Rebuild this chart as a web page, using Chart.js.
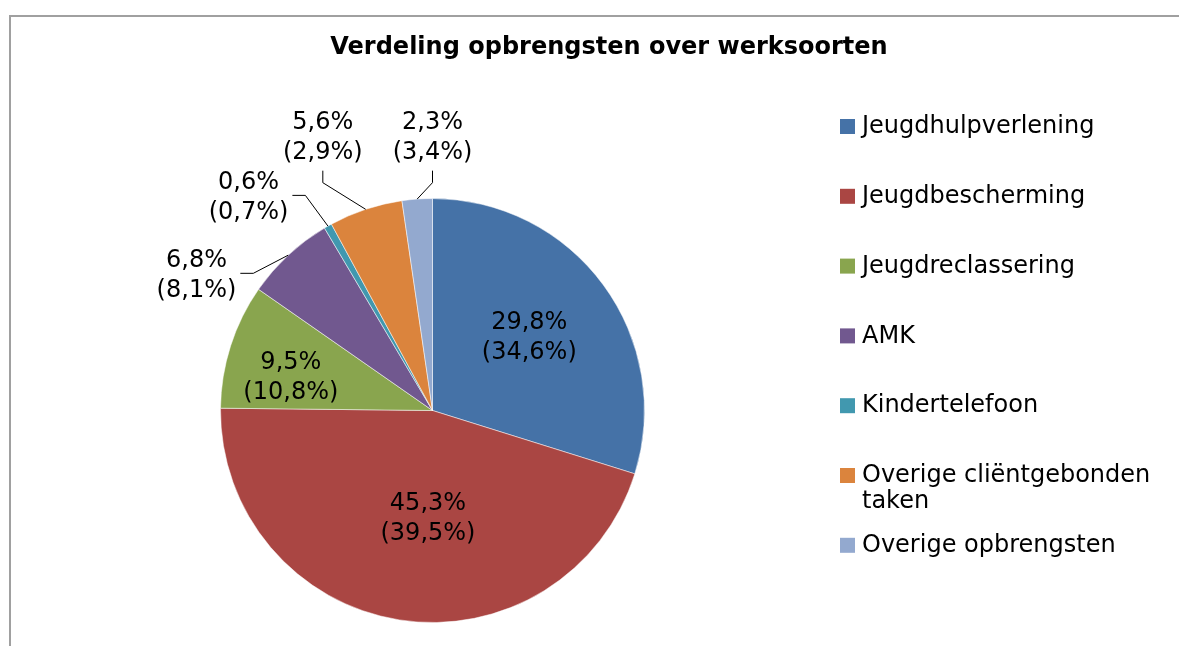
<!DOCTYPE html>
<html>
<head>
<meta charset="utf-8">
<script src="https://cdn.jsdelivr.net/npm/chart.js@4/dist/chart.umd.min.js"></script>
<style>
  html, body { margin: 0; padding: 0; background: #fff; }
  #wrap { position: relative; width: 1179px; height: 646px; }
</style>
</head>
<body>
<div id="wrap"><canvas id="pie"></canvas></div>
<script>
const categories = ['Jeugdhulpverlening', 'Jeugdbescherming', 'Jeugdreclassering', 'AMK',
    'Kindertelefoon', 'Overige cliëntgebonden taken', 'Overige opbrengsten'];
const shares = [29.8, 45.3, 9.5, 6.8, 0.6, 5.6, 2.3];
const sharesPrev = [34.6, 39.5, 10.8, 8.1, 0.7, 2.9, 3.4];
const colors = ['#4572A7', '#AA4643', '#89A54E', '#71588F', '#4198AF', '#DB843D', '#93A9CF'];

const FONT = '"DejaVu Sans", Verdana, sans-serif';
const pct = v => v.toFixed(1).replace('.', ',') + '%';

// where each label sits: angle (deg) and distance as a fraction of the radius; leader style
const labelPlace = [
    { a: -36.8, f: 0.570 }, { a: 92.4, f: 0.511 }, { a: 193.1, f: 0.686 },
    { a: 209.8, f: 1.283, lead: 'h' }, { a: 229.2, f: 1.328, lead: 'h' },
    { a: 248.1, f: 1.387, lead: 'v' }, { a: 270, f: 1.287, lead: 'v' }
];

const decor = {
    id: 'decor',
    beforeDraw(chart) {
        const ctx = chart.ctx;
        ctx.save();
        ctx.strokeStyle = '#a0a0a0';
        ctx.lineWidth = 2;
        ctx.beginPath();
        ctx.moveTo(10, 646); ctx.lineTo(10, 16); ctx.lineTo(1179, 16);
        ctx.stroke();
        ctx.fillStyle = '#000';
        ctx.font = 'bold 24px ' + FONT;
        ctx.textAlign = 'center';
        ctx.textBaseline = 'middle';
        ctx.fillText('Verdeling opbrengsten over werksoorten', 609, 48);
        ctx.restore();
    },
    afterDraw(chart) {
        const ctx = chart.ctx;
        const meta = chart.getDatasetMeta(0);
        ctx.save();
        ctx.font = '24px ' + FONT;
        ctx.fillStyle = '#000';
        ctx.strokeStyle = '#000';
        ctx.lineWidth = 1;
        ctx.textAlign = 'center';
        ctx.textBaseline = 'middle';
        meta.data.forEach((arc, i) => {
            const p = arc.getProps(['x', 'y', 'startAngle', 'endAngle', 'outerRadius'], true);
            const place = labelPlace[i];
            const ang = place.a * Math.PI / 180;
            const cx = p.x + Math.cos(ang) * p.outerRadius * place.f;
            const cy = p.y + Math.sin(ang) * p.outerRadius * place.f;
            const l1 = pct(shares[i]), l2 = '(' + pct(sharesPrev[i]) + ')';
            ctx.fillText(l1, cx, cy - 15);
            ctx.fillText(l2, cx, cy + 15);
            if (place.lead) {
                const mid = (p.startAngle + p.endAngle) / 2;
                const ex = p.x + Math.cos(mid) * p.outerRadius;
                const ey = p.y + Math.sin(mid) * p.outerRadius;
                const w = Math.max(ctx.measureText(l1).width, ctx.measureText(l2).width);
                ctx.beginPath();
                if (place.lead === 'h') {
                    const x0 = cx + w / 2 + 4, y0 = cy - 2;
                    ctx.moveTo(x0, y0); ctx.lineTo(x0 + 13, y0);
                } else {
                    const y0 = cy + 33;
                    ctx.moveTo(cx, y0); ctx.lineTo(cx, y0 + 12);
                }
                ctx.lineTo(ex, ey);
                ctx.stroke();
            }
        });

        // legend
        ctx.textAlign = 'left';
        let y = 126;
        categories.forEach((name, i) => {
            ctx.fillStyle = colors[i];
            ctx.fillRect(840, y - 7, 15, 15);
            ctx.fillStyle = '#000';
            const words = name.split(' ');
            const lines = [];
            let cur = '';
            words.forEach(wd => {
                const t = cur ? cur + ' ' + wd : wd;
                if (ctx.measureText(t).width > 305 && cur) { lines.push(cur); cur = wd; }
                else cur = t;
            });
            lines.push(cur);
            lines.forEach((ln, k) => ctx.fillText(ln, 862, y + 1 + k * 26));
            y += 69.8;
        });
        ctx.restore();
    }
};

new Chart(document.getElementById('pie'), {
    type: 'pie',
    data: {
        labels: categories,
        datasets: [{
            data: shares,
            backgroundColor: colors,
            borderColor: 'rgba(255,255,255,0.5)',
            borderWidth: 1
        }]
    },
    options: {
        responsive: true,
        maintainAspectRatio: false,
        animation: false,
        layout: { padding: { left: 220, right: 534, top: 198, bottom: 23 } },
        plugins: { legend: { display: false }, title: { display: false }, tooltip: { enabled: false } }
    },
    plugins: [decor]
});
</script>
</body>
</html>
